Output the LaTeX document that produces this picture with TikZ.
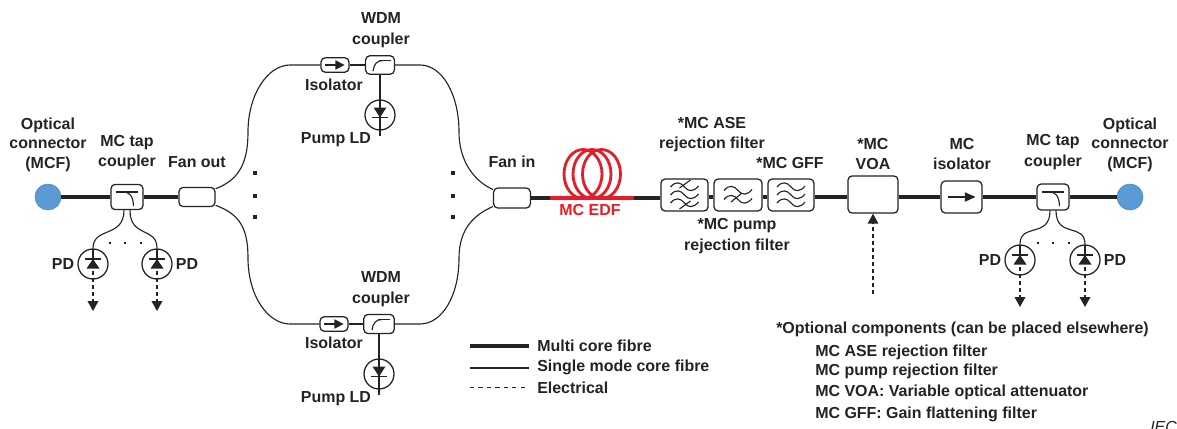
\documentclass[tikz,border=0pt]{standalone}
\usepackage{fontspec}
\setmainfont{Liberation Sans}
\usetikzlibrary{arrows.meta,calc}
\definecolor{ink}{RGB}{35,35,35}
\definecolor{connbleu}{RGB}{91,155,213}
\definecolor{edfred}{RGB}{227,30,40}
\tikzset{
  mcf/.style={ink,line width=2.6pt},
  smf/.style={ink,line width=0.8pt},
  elec/.style={ink,line width=0.9pt,densely dashed,-{Triangle[length=7pt,width=7.5pt]}},
  part/.style={draw=ink,line width=0.9pt,rounded corners=3pt,fill=white,inner sep=0pt},
  round/.style={draw=ink,line width=0.9pt,circle,minimum size=0.75cm,inner sep=0pt},
  conn/.style={draw=connbleu!85!black,fill=connbleu,circle,minimum size=0.65cm,inner sep=0pt},
  lbl/.style={text=ink,font=\fontsize{11.35}{14.8}\selectfont\bfseries,align=center,inner sep=0pt},
  note/.style={lbl,anchor=west}
}
\begin{document}
\begin{tikzpicture}[x=0.025cm,y=-0.025cm]
    % coordinates are pixels of the sheet, y downwards
    \useasboundingbox (0,0) rectangle (1177,428);
    \clip (0,0) rectangle (1177,428);
    \coordinate (midy) at (0,197);
    % parts
    \node[conn] (optA) at (48,197){};
    \node[part,minimum width=0.8cm,minimum height=0.63cm] (tapA) at (127,197){};
    \node[part,minimum width=0.9cm,minimum height=0.48cm] (fanout) at (197,197){};
    \node[part,minimum width=0.7cm,minimum height=0.36cm] (isoA) at (335,65){};
    \node[part,minimum width=0.72cm,minimum height=0.46cm] (wdmA) at (380,65){};
    \node[round] (ldA) at (380,115){};
    \node[part,minimum width=0.7cm,minimum height=0.36cm] (isoB) at (334,324){};
    \node[part,minimum width=0.76cm,minimum height=0.48cm] (wdmB) at (379,324){};
    \node[round] (ldB) at (379,374){};
    \node[part,minimum width=0.92cm,minimum height=0.5cm] (fanin) at (512,198){};
    \node[part,minimum width=1.18cm,minimum height=0.8cm] (aseflt) at (684.5,195){};
    \node[part,minimum width=1.2cm,minimum height=0.8cm] (pumpflt) at (738,195){};
    \node[part,minimum width=1.15cm,minimum height=0.8cm] (gff) at (791,195){};
    \node[part,minimum width=1.25cm,minimum height=0.93cm] (voa) at (873,194.5){};
    \node[part,minimum width=1.02cm,minimum height=0.8cm] (isoC) at (961.5,197){};
    \node[part,minimum width=0.8cm,minimum height=0.65cm] (tapB) at (1053,197){};
    \node[conn] (optB) at (1130,197){};
    \node[round] (pdA) at (93,264){};
    \node[round] (pdB) at (157,264){};
    \node[round] (pdC) at (1020,260){};
    \node[round] (pdD) at (1085,260){};
    % free ends
    \coordinate (edfL) at (550,198);
    \coordinate (edfR) at (634,198);
    \coordinate (upL) at (248,132);
    \coordinate (upLb) at (290,65);
    \coordinate (upR) at (459,132);
    \coordinate (upRb) at (420,65);
    \coordinate (dnL) at (248,258);
    \coordinate (dnLb) at (290,324);
    \coordinate (dnR) at (459,258);
    \coordinate (dnRb) at (420,324);
    \coordinate (ldAend) at (380,136);
    \coordinate (ldBend) at (379,395);
    \coordinate (pdAend) at (93,311);
    \coordinate (pdBend) at (157,311);
    \coordinate (pdCend) at (1020,307);
    \coordinate (pdDend) at (1085,307);
    \coordinate (voaIn) at (873,294);
    % multi core line
    \draw[mcf] (optA) -- (tapA);
    \draw[mcf] (tapA) -- (fanout);
    \draw[mcf] (fanin.east) -- (edfL);
    \draw[mcf] (edfR) -- (aseflt.west |- edfR);
    \draw[mcf] (aseflt.east |- midy) -- (pumpflt.west |- midy);
    \draw[mcf] (pumpflt.east |- midy) -- (gff.west |- midy);
    \draw[mcf] (gff.east |- midy) -- (voa.west |- midy);
    \draw[mcf] (voa.east |- midy) -- (isoC);
    \draw[mcf] (isoC) -- (tapB);
    \draw[mcf] (tapB) -- (optB);
    % fibre coil
    \foreach \x in {583,592,601.5}{
      \draw[edfred,line width=2pt] (\x,174) ellipse (19 and 24.5);}
    \draw[edfred,line width=2.6pt] (edfL) -- (edfR);
    % single mode branches
    \draw[smf] (fanout.24) .. controls +(24,-9) and +(0,30) .. (upL) .. controls +(0,-38) and +(-22,0) .. (upLb) -- (isoA);
    \draw[smf] (isoA) -- (wdmA);
    \draw[smf] (wdmA) -- (upRb) .. controls +(22,0) and +(0,-38) .. (upR) .. controls +(0,30) and +(-18,-8) .. (fanin.156);
    \draw[smf] (fanout.-24) .. controls +(24,9) and +(0,-30) .. (dnL) .. controls +(0,38) and +(-22,0) .. (dnLb) -- (isoB);
    \draw[smf] (isoB) -- (wdmB);
    \draw[smf] (wdmB) -- (dnRb) .. controls +(22,0) and +(0,38) .. (dnR) .. controls +(0,-30) and +(-18,8) .. (fanin.-156);
    \draw[smf] (wdmA) -- (ldAend);
    \draw[smf] (wdmB) -- (ldBend);
    % tap legs
    \draw[smf] ([xshift=-0.075cm]tapA.south) .. controls +(0,28) and +(0,-22) .. (pdA.north);
    \draw[smf] ([xshift=0.075cm]tapA.south) .. controls +(0,28) and +(0,-22) .. (pdB.north);
    \draw[smf] ([xshift=-0.075cm]tapB.south) .. controls +(0,28) and +(0,-22) .. (pdC.north);
    \draw[smf] ([xshift=0.075cm]tapB.south) .. controls +(0,28) and +(0,-22) .. (pdD.north);
    \foreach \n in {pdA,pdB,pdC,pdD}{
      \draw[elec] (\n.center) -- (\n end);}
    \draw[elec] (voaIn) -- (voa.south);
    % dots
    \foreach \x/\y in {255/173,255/196,255/217,453/173,453/196,453/217}{
      \fill[ink] (\x-1.8,\y-1.8) rectangle ++(3.6,3.6);}
    \foreach \x in {110,125,141,1038,1053,1069}{
      \fill[ink] (\x-1.4,241.6) rectangle ++(2.8,2.8);}
    % photodiodes
    \foreach \n in {pdA,pdB,pdC,pdD}{
      \begin{scope}[shift={(\n)}]
        \draw[smf] (0,-15) -- (0,-5);
        \draw[smf] (-8,-5) -- (8,-5);
        \fill[ink] (0,-5) -- (6.5,4.5) -- (-6.5,4.5) -- cycle;
      \end{scope}}
    % pump diodes
    \foreach \n in {ldA,ldB}{
      \begin{scope}[shift={(\n)}]
        \draw[smf] (-8,2.5) -- (8,2.5);
        \fill[ink] (0,2.5) -- (6.5,-7.5) -- (-6.5,-7.5) -- cycle;
      \end{scope}}
    % tap couplers
    \foreach \n in {tapA,tapB}{
      \begin{scope}[shift={(\n)}]
        \draw[smf] (-11,-5) -- (11,-5);
        \draw[smf] (-4,-5) .. controls (2,-5) and (6,-2) .. (6.5,9);
      \end{scope}}
    % wdm couplers
    \foreach \n in {wdmA,wdmB}{
      \begin{scope}[shift={(\n)}]
        \draw[smf] (-1,-4.5) -- (11,-4.5);
        \draw[smf] (-7,6) .. controls (-6,-1) and (-3,-4.5) .. (3,-4.5);
      \end{scope}}
    % isolators
    \foreach \n in {isoA,isoB}{
      \draw[smf,-{Triangle[length=6.5pt,width=6.5pt]}] ([xshift=-0.25cm]\n.center) -- ([xshift=0.24cm]\n.center);}
    \draw[smf,-{Triangle[length=7.5pt,width=6.5pt]}] ([xshift=-0.33cm]isoC.center) -- ([xshift=0.35cm]isoC.center);
    % filters
    \foreach \n/\ys in {aseflt/{-8,0,8},pumpflt/{-4.5,4.5},gff/{-8,0,8}}{
      \begin{scope}[shift={(\n)}]
        \foreach \y in \ys{
          \draw[smf] (-14,\y) .. controls (-9,\y-6) and (-4,\y-5) .. (0,\y) .. controls (4,\y+5) and (9,\y+5) .. (14,\y-1);}
      \end{scope}}
    \draw[smf] ($(aseflt)+(-5,-7)$) -- ($(aseflt)+(6,-15)$);
    \draw[smf] ($(aseflt)+(-5,14)$) -- ($(aseflt)+(6,6)$);
    \draw[smf] ($(pumpflt)+(-7,7)$) -- ($(pumpflt)+(4,-2)$);
    % labels
    \node[lbl] (optAlbl) at (48,144.5){Optical\\[-1pt]connector\\[-1pt](MCF)};
    \node[lbl] (tapAlbl) at (127,152.5){MC tap\\coupler};
    \node[lbl] (fanoutlbl) at (197,162){Fan out};
    \node[lbl] (wdmAlbl) at (381,30){WDM\\coupler};
    \node[lbl] (isoAlbl) at (334,85){Isolator};
    \node[lbl] (ldAlbl) at (336,140){Pump LD};
    \node[lbl] (wdmBlbl) at (381,289){WDM\\coupler};
    \node[lbl] (isoBlbl) at (334,343){Isolator};
    \node[lbl] (ldBlbl) at (336,399){Pump LD};
    \node[lbl] (faninlbl) at (512,162){Fan in};
    \node[lbl,text=edfred] (edflbl) at (590,210){MC EDF};
    \node[lbl] (aselbl) at (712,134.5){*MC ASE\\rejection filter};
    \node[lbl] (gfflbl) at (790,163){*MC GFF};
    \node[lbl] (pumplbl) at (737,236){*MC pump\\rejection filter};
    \node[lbl] (voalbl) at (873,154){*MC\\VOA};
    \node[lbl] (isoClbl) at (962,154){MC\\isolator};
    \node[lbl] (tapBlbl) at (1053,152){MC tap\\coupler};
    \node[lbl] (optBlbl) at (1130,144.5){Optical\\[-1pt]connector\\[-1pt](MCF)};
    \node[lbl] (pdAlbl) at (63,264){PD};
    \node[lbl] (pdBlbl) at (187,264){PD};
    \node[lbl] (pdClbl) at (990,260){PD};
    \node[lbl] (pdDlbl) at (1115,260){PD};
    % legend
    \coordinate (legA) at (470,346);
    \coordinate (legAe) at (529,346);
    \coordinate (legB) at (470,368);
    \coordinate (legBe) at (529,368);
    \coordinate (legC) at (470,387);
    \coordinate (legCe) at (529,387);
    \draw[mcf] (legA) -- (legAe);
    \draw[smf] (legB) -- (legBe);
    \draw[ink,line width=0.7pt,dashed] (legC) -- (legCe);
    \node[note] (legAlbl) at (537,346){Multi core fibre};
    \node[note] (legBlbl) at (537,367){Single mode core fibre};
    \node[note] (legClbl) at (537,388){Electrical};
    % optional parts
    \node[note] (optlbl) at (776,329){*Optional components (can be placed elsewhere)};
    \node[note] (optAse) at (815,352){MC ASE rejection filter};
    \node[note] (optPump) at (815,371){MC pump rejection filter};
    \node[note] (optVoa) at (815,392){MC VOA: Variable optical attenuator};
    \node[note] (optGff) at (815,414){MC GFF: Gain flattening filter};
    \node[text=ink,font=\fontsize{11.35}{14}\selectfont\itshape,inner sep=0pt,anchor=west] (ieclbl) at (1150,427){IEC};
  \end{tikzpicture}
\end{document}
